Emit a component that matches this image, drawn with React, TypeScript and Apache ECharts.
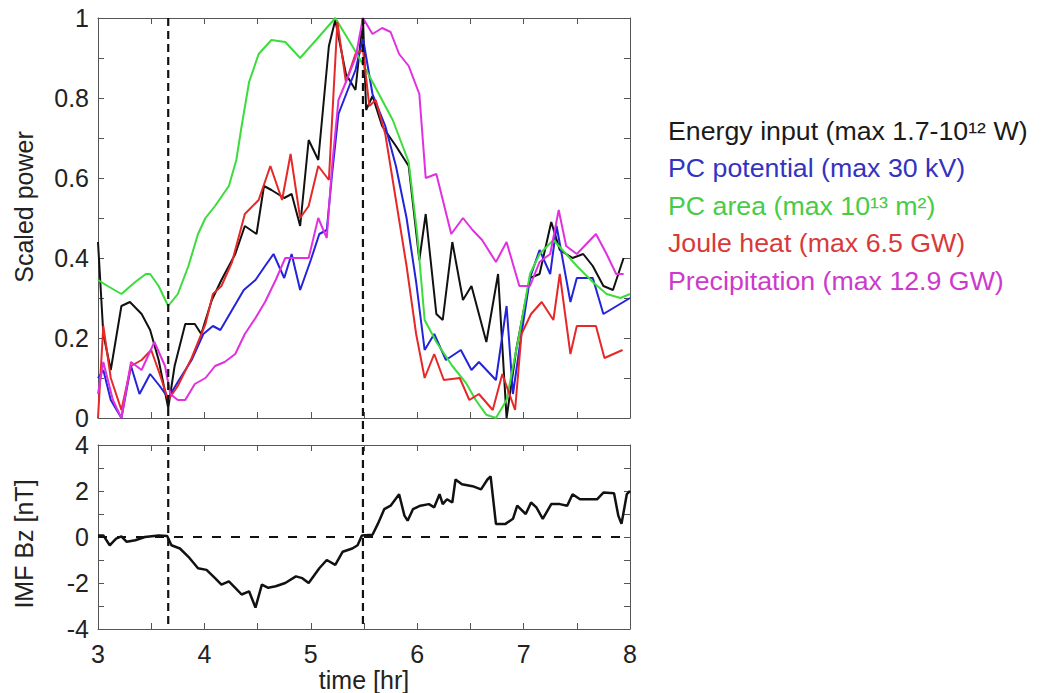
import React, { useEffect, useRef } from "react";
import * as echarts from "echarts";

// ---- data (time [hr], value) ----
const energyInput: number[][] = [
  [3.0, 0.44], [3.05, 0.21], [3.12, 0.12], [3.22, 0.28], [3.3, 0.29], [3.41, 0.26], [3.49, 0.22],
  [3.57, 0.145], [3.66, 0.025], [3.72, 0.13], [3.82, 0.235], [3.91, 0.235], [3.97, 0.21], [4.07, 0.295],
  [4.16, 0.345], [4.29, 0.41], [4.38, 0.48], [4.49, 0.46], [4.56, 0.58], [4.63, 0.57], [4.75, 0.55],
  [4.82, 0.56], [4.9, 0.48], [4.98, 0.695], [5.07, 0.645], [5.17, 0.93], [5.23, 0.995], [5.33, 0.86],
  [5.42, 0.82], [5.49, 1.0], [5.52, 0.77], [5.58, 0.805], [5.67, 0.73], [5.8, 0.68], [5.92, 0.63],
  [6.02, 0.395], [6.08, 0.51], [6.18, 0.26], [6.24, 0.245], [6.33, 0.44], [6.43, 0.295], [6.51, 0.33],
  [6.65, 0.19], [6.76, 0.36], [6.84, 0.0], [6.93, 0.17], [7.06, 0.35], [7.15, 0.36], [7.26, 0.49],
  [7.34, 0.42], [7.46, 0.4], [7.56, 0.41], [7.65, 0.38], [7.75, 0.33], [7.84, 0.32], [7.94, 0.4],
];
const pcPotential: number[][] = [
  [3.0, 0.1], [3.05, 0.12], [3.12, 0.045], [3.22, 0.0], [3.31, 0.13], [3.39, 0.06], [3.49, 0.11],
  [3.58, 0.08], [3.66, 0.05], [3.75, 0.09], [3.88, 0.145], [3.99, 0.21], [4.08, 0.23], [4.15, 0.22],
  [4.26, 0.27], [4.37, 0.32], [4.48, 0.345], [4.57, 0.38], [4.65, 0.41], [4.75, 0.35], [4.82, 0.41],
  [4.9, 0.32], [5.0, 0.395], [5.08, 0.46], [5.15, 0.47], [5.2, 0.61], [5.26, 0.76], [5.42, 0.87],
  [5.49, 0.95], [5.58, 0.81], [5.7, 0.73], [5.8, 0.63], [5.9, 0.5], [5.99, 0.34], [6.07, 0.17],
  [6.16, 0.21], [6.27, 0.145], [6.41, 0.17], [6.51, 0.12], [6.58, 0.14], [6.74, 0.095], [6.84, 0.28],
  [6.9, 0.06], [6.98, 0.21], [7.06, 0.35], [7.15, 0.42], [7.25, 0.36], [7.31, 0.48], [7.44, 0.29],
  [7.5, 0.35], [7.65, 0.35], [7.75, 0.26], [8.0, 0.3],
];
const pcArea: number[][] = [
  [3.0, 0.345], [3.09, 0.33], [3.22, 0.31], [3.35, 0.34], [3.45, 0.36], [3.49, 0.36], [3.57, 0.33],
  [3.66, 0.28], [3.75, 0.31], [3.85, 0.38], [3.94, 0.46], [4.01, 0.5], [4.1, 0.53], [4.23, 0.58],
  [4.3, 0.645], [4.35, 0.73], [4.42, 0.84], [4.51, 0.91], [4.63, 0.945], [4.76, 0.94], [4.9, 0.9],
  [5.05, 0.945], [5.23, 1.0], [5.39, 0.93], [5.52, 0.87], [5.77, 0.745], [5.92, 0.64], [6.0, 0.46],
  [6.07, 0.245], [6.18, 0.19], [6.33, 0.13], [6.46, 0.087], [6.55, 0.045], [6.65, 0.008], [6.74, 0.0],
  [6.84, 0.045], [6.96, 0.21], [7.06, 0.36], [7.15, 0.41], [7.28, 0.445], [7.4, 0.41], [7.5, 0.38],
  [7.65, 0.34], [7.78, 0.31], [7.91, 0.3], [8.0, 0.31],
];
const jouleHeat: number[][] = [
  [3.0, 0.0], [3.05, 0.23], [3.12, 0.1], [3.22, 0.02], [3.31, 0.13], [3.41, 0.145], [3.5, 0.17],
  [3.58, 0.11], [3.66, 0.045], [3.75, 0.08], [3.88, 0.15], [4.01, 0.235], [4.08, 0.31], [4.16, 0.33],
  [4.26, 0.39], [4.38, 0.51], [4.51, 0.545], [4.62, 0.63], [4.73, 0.545], [4.81, 0.66], [4.9, 0.5],
  [4.98, 0.53], [5.07, 0.63], [5.17, 0.595], [5.21, 0.795], [5.25, 0.99], [5.33, 0.84], [5.42, 0.91],
  [5.49, 0.92], [5.55, 0.78], [5.61, 0.795], [5.7, 0.71], [5.8, 0.545], [5.9, 0.38], [5.99, 0.21],
  [6.07, 0.1], [6.16, 0.16], [6.25, 0.095], [6.4, 0.1], [6.49, 0.045], [6.58, 0.06], [6.71, 0.02],
  [6.8, 0.11], [6.92, 0.02], [6.98, 0.21], [7.07, 0.26], [7.17, 0.29], [7.28, 0.245], [7.34, 0.36],
  [7.44, 0.16], [7.5, 0.23], [7.68, 0.23], [7.76, 0.15], [7.93, 0.17],
];
const precipitation: number[][] = [
  [3.0, 0.06], [3.05, 0.14], [3.14, 0.045], [3.22, 0.0], [3.31, 0.14], [3.41, 0.12], [3.53, 0.19],
  [3.63, 0.13], [3.68, 0.06], [3.75, 0.045], [3.82, 0.045], [3.91, 0.085], [4.01, 0.1], [4.1, 0.13],
  [4.19, 0.14], [4.29, 0.16], [4.38, 0.21], [4.48, 0.25], [4.57, 0.29], [4.67, 0.345], [4.76, 0.4],
  [4.85, 0.4], [4.98, 0.4], [5.07, 0.5], [5.15, 0.45], [5.2, 0.63], [5.26, 0.795], [5.33, 0.84],
  [5.42, 0.9], [5.49, 1.0], [5.58, 0.96], [5.67, 0.975], [5.75, 0.965], [5.83, 0.91], [5.92, 0.88],
  [6.02, 0.81], [6.08, 0.6], [6.18, 0.61], [6.32, 0.46], [6.43, 0.5], [6.52, 0.47], [6.61, 0.445],
  [6.74, 0.39], [6.84, 0.44], [6.96, 0.33], [7.06, 0.33], [7.15, 0.39], [7.25, 0.41], [7.33, 0.52],
  [7.4, 0.43], [7.5, 0.41], [7.68, 0.46], [7.78, 0.41], [7.87, 0.36], [7.94, 0.36],
];
const imfBz: number[][] = [
  [3.0, 0.07], [3.05, 0.07], [3.11, -0.36], [3.17, -0.07], [3.22, 0.03], [3.27, -0.21], [3.35, -0.14],
  [3.44, 0.0], [3.57, 0.07], [3.65, 0.04], [3.69, -0.36], [3.77, -0.5], [3.85, -0.86], [3.94, -1.36],
  [4.02, -1.43], [4.1, -1.79], [4.16, -2.07], [4.23, -1.93], [4.29, -2.21], [4.35, -2.5], [4.42, -2.36],
  [4.48, -3.07], [4.54, -2.07], [4.6, -2.21], [4.67, -2.14], [4.76, -2.0], [4.86, -1.71], [4.92, -1.79],
  [4.98, -2.0], [5.08, -1.36], [5.15, -1.0], [5.23, -1.21], [5.3, -0.64], [5.39, -0.5], [5.44, -0.36],
  [5.48, 0.07], [5.58, 0.1], [5.63, 0.57], [5.69, 1.21], [5.75, 1.36], [5.83, 1.86], [5.88, 0.93],
  [5.91, 0.71], [5.96, 1.21], [6.03, 1.36], [6.11, 1.43], [6.16, 1.29], [6.21, 1.86], [6.24, 1.43],
  [6.28, 1.64], [6.33, 1.5], [6.36, 2.5], [6.42, 2.29], [6.52, 2.21], [6.6, 2.07], [6.66, 2.5],
  [6.69, 2.64], [6.74, 0.57], [6.83, 0.57], [6.9, 0.79], [6.94, 1.36], [7.02, 1.0], [7.07, 1.5],
  [7.12, 1.29], [7.18, 0.79], [7.26, 1.43], [7.34, 1.43], [7.41, 1.36], [7.46, 1.86], [7.53, 1.64],
  [7.62, 1.64], [7.69, 1.64], [7.75, 1.93], [7.85, 1.9], [7.89, 0.93], [7.92, 0.57], [7.97, 1.86],
  [8.0, 2.0],
];
const eventTimes: number[] = [3.66, 5.49];
const legendLabels: string[] = [
  "Energy input (max 1.7-10¹² W)",
  "PC potential (max 30 kV)",
  "PC area (max 10¹³ m²)",
  "Joule heat (max 6.5 GW)",
  "Precipitation (max 12.9 GW)",
];
const seriesColors: string[] = ["#111111", "#2323dc", "#3cdc3c", "#e62828", "#e030e0"];
const legendColors: string[] = ["#1a1a1a", "#3333c0", "#48cc48", "#d83a3a", "#cc3acc"];

const FONT = "Liberation Sans";
const FS = 25;
const AXIS_COLOR = "#555";
const TEXT_COLOR = "#222";

function frameX(gridIndex: number, position: "top" | "bottom", labels: boolean, name?: string) {
  return {
    type: "value",
    gridIndex,
    position,
    min: 3,
    max: 8,
    interval: 1,
    name: name || "",
    nameLocation: "middle",
    nameGap: 38,
    nameTextStyle: { fontFamily: FONT, fontSize: FS, color: TEXT_COLOR },
    axisLine: { show: true, onZero: false, lineStyle: { color: AXIS_COLOR, width: 1 } },
    axisTick: { show: true, inside: true, length: 6, lineStyle: { color: AXIS_COLOR } },
    minorTick: { show: true, splitNumber: 2, length: 6, lineStyle: { color: AXIS_COLOR } },
    axisLabel: { show: labels, margin: 12, fontFamily: FONT, fontSize: FS, color: TEXT_COLOR },
    splitLine: { show: false },
  };
}

function frameY(
  gridIndex: number,
  position: "left" | "right",
  labels: boolean,
  min: number,
  max: number,
  interval: number,
  name?: string,
  namePadding?: number[]
) {
  return {
    type: "value",
    gridIndex,
    position,
    min,
    max,
    interval,
    name: name || "",
    nameLocation: "middle",
    nameGap: 62,
    nameTextStyle: {
      fontFamily: FONT,
      fontSize: FS,
      color: TEXT_COLOR,
      padding: namePadding || [0, 0, 0, 0],
    },
    axisLine: { show: true, onZero: false, lineStyle: { color: AXIS_COLOR, width: 1 } },
    axisTick: { show: true, inside: true, length: 6, lineStyle: { color: AXIS_COLOR } },
    minorTick: { show: true, splitNumber: 2, length: 6, lineStyle: { color: AXIS_COLOR } },
    axisLabel: { show: labels, margin: 9, fontFamily: FONT, fontSize: FS, color: TEXT_COLOR },
    splitLine: { show: false },
  };
}

export default function App() {
  const ref = useRef<HTMLDivElement>(null);

  useEffect(() => {
    document.body.style.margin = "0";
    if (!ref.current) return;
    const chart = echarts.init(ref.current, undefined, { renderer: "svg" });

    const topSeries = [energyInput, pcPotential, pcArea, jouleHeat, precipitation].map((d, i) => ({
      type: "line",
      xAxisIndex: 0,
      yAxisIndex: 0,
      data: d,
      symbol: "none",
      showSymbol: false,
      lineStyle: { color: seriesColors[i], width: 2 },
      itemStyle: { color: seriesColors[i] },
      z: 2 + i,
    }));

    const legendGraphics = legendLabels.map((t, i) => ({
      id: "legend" + i,
      type: "text",
      x: 668,
      y: 131 + 37.5 * i,
      scaleX: 1.07,
      style: {
        text: t,
        fill: legendColors[i],
        fontFamily: FONT,
        fontSize: FS,
        textAlign: "left",
        textVerticalAlign: "middle",
      },
    }));

    chart.setOption({
      animation: false,
      backgroundColor: "#ffffff",
      textStyle: { fontFamily: FONT },
      grid: [
        { left: 98, top: 18, width: 532, height: 400 },
        { left: 98, top: 445, width: 532, height: 187 },
      ],
      xAxis: [
        frameX(0, "bottom", false),
        frameX(0, "top", false),
        frameX(1, "bottom", true, "time [hr]"),
        frameX(1, "top", false),
      ],
      yAxis: [
        frameY(0, "left", true, 0, 1, 0.2, "Scaled power", [0, 0, 0, 22]),
        frameY(0, "right", false, 0, 1, 0.2),
        frameY(1, "left", true, -4, 4, 2, "IMF Bz [nT]", [0, 14, 0, 0]),
        frameY(1, "right", false, -4, 4, 2),
      ],
      series: [
        ...topSeries,
        {
          type: "line",
          xAxisIndex: 2,
          yAxisIndex: 2,
          data: imfBz,
          symbol: "none",
          showSymbol: false,
          lineStyle: { color: "#111", width: 2.5 },
          itemStyle: { color: "#111" },
          markLine: {
            silent: true,
            symbol: ["none", "none"],
            label: { show: false },
            lineStyle: { color: "#111", width: 2, type: [9, 10] },
            data: [{ yAxis: 0 }],
          },
        },
      ],
      graphic: legendGraphics,
    });

    const lines = eventTimes.map((t, i) => {
      const p1 = chart.convertToPixel({ xAxisIndex: 0, yAxisIndex: 0 }, [t, 1]) as number[];
      const p2 = chart.convertToPixel({ xAxisIndex: 2, yAxisIndex: 2 }, [t, -4]) as number[];
      return {
        id: "event" + i,
        type: "line",
        z: 100,
        shape: { x1: p1[0], y1: p1[1], x2: p2[0], y2: p2[1] },
        style: { stroke: "#111", lineWidth: 2.2, lineDash: [8, 5] },
      };
    });
    chart.setOption({ graphic: [...legendGraphics, ...lines] });

    return () => chart.dispose();
  }, []);

  return <div ref={ref} style={{ width: 1042, height: 693 }} />;
}
